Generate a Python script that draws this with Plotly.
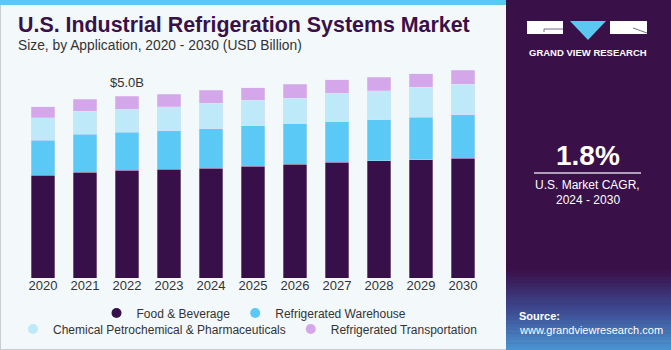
import plotly.graph_objects as go

years = ["2020", "2021", "2022", "2023", "2024", "2025", "2026", "2027", "2028", "2029", "2030"]
food = [2.83, 2.91, 2.96, 3.00, 3.02, 3.07, 3.13, 3.18, 3.23, 3.26, 3.30]
warehouse = [0.96, 1.04, 1.05, 1.05, 1.09, 1.12, 1.11, 1.12, 1.13, 1.17, 1.20]
chemical = [0.62, 0.64, 0.64, 0.66, 0.70, 0.70, 0.71, 0.78, 0.79, 0.82, 0.83]
transport = [0.31, 0.33, 0.35, 0.35, 0.36, 0.35, 0.38, 0.37, 0.37, 0.37, 0.39]
label_year = "2022"
label_text = "$5.0B"

series_names = ["Food & Beverage", "Refrigerated Warehouse",
                "Chemical Petrochemical & Pharmaceuticals", "Refrigerated Transportation"]
series_vals = [food, warehouse, chemical, transport]
colors = ["#37104A", "#5BC9F5", "#BEE9F9", "#D4A7EB"]
legend_ids = ["legend", "legend", "legend2", "legend2"]

W, H = 671, 350
L, R, T, B = 22, 187, 60, 72
PW, PH = W - L - R, H - T - B


def px(x):
    return (x - L) / PW


def py(y):
    return (H - B - y) / PH


fig = go.Figure()
for name, vals, col in zip(series_names, series_vals, colors):
    fig.add_trace(go.Bar(x=years, y=vals, name=name, marker_color=col,
                         marker_line_width=0.6, marker_line_color="rgba(235,225,245,0.55)",
                         showlegend=False))
for name, col, lg in zip(series_names, colors, legend_ids):
    fig.add_trace(go.Scatter(x=[years[0]], y=[None], mode="markers", name=name,
                             marker=dict(color=col, size=10, symbol="circle"),
                             legend=lg, showlegend=True, hoverinfo="skip"))

shapes = []
# outer border
shapes.append(dict(type="rect", xref="paper", yref="paper", x0=px(0.5), x1=px(670.5), y0=py(349.5), y1=py(0.5),
                   line=dict(color="#C9CDD2", width=1), fillcolor="rgba(0,0,0,0)", layer="below"))
# top stripe
shapes.append(dict(type="rect", xref="paper", yref="paper", x0=px(0), x1=px(506), y0=py(5), y1=py(0),
                   line_width=0, fillcolor="#5BC8F2"))
# right panel
shapes.append(dict(type="rect", xref="paper", yref="paper", x0=px(506), x1=px(671), y0=py(350), y1=py(0),
                   line_width=0, fillcolor="#3A1049"))
# gradient bands at bottom of panel
start = (58, 16, 73)
mid = (62, 74, 145)
end = (75, 150, 210)
n = 24
y_top, y_bot = 270, 350
for i in range(n):
    f = (i + 0.5) / n
    if f < 0.5:
        g = f / 0.5
        c = tuple(int(start[k] + (mid[k] - start[k]) * g) for k in range(3))
    else:
        g = (f - 0.5) / 0.5
        c = tuple(int(mid[k] + (end[k] - mid[k]) * g) for k in range(3))
    ya = y_top + (y_bot - y_top) * i / n
    yb = y_top + (y_bot - y_top) * (i + 1) / n
    shapes.append(dict(type="rect", xref="paper", yref="paper", x0=px(506), x1=px(671), y0=py(yb + 0.5), y1=py(ya),
                       line_width=0, fillcolor="rgb(%d,%d,%d)" % c))
# logo blocks
shapes.append(dict(type="rect", xref="paper", yref="paper", x0=px(527), x1=px(563), y0=py(34), y1=py(21),
                   line_width=0, fillcolor="white"))
shapes.append(dict(type="rect", xref="paper", yref="paper", x0=px(610), x1=px(647), y0=py(34), y1=py(21),
                   line_width=0, fillcolor="white"))
shapes.append(dict(type="path", xref="paper", yref="paper",
                   path="M %f %f L %f %f L %f %f Z" % (px(570), py(21), px(606), py(21), px(588), py(40)),
                   line_width=0, fillcolor="#5BC8F2"))
shapes.append(dict(type="line", xref="paper", yref="paper", x0=px(544), x1=px(563), y0=py(29), y1=py(29),
                   line=dict(color="#7A6A88", width=1)))
shapes.append(dict(type="line", xref="paper", yref="paper", x0=px(544), x1=px(544), y0=py(29), y1=py(32),
                   line=dict(color="#7A6A88", width=1)))
shapes.append(dict(type="line", xref="paper", yref="paper", x0=px(633), x1=px(647), y0=py(28), y1=py(33),
                   line=dict(color="#7A6A88", width=1)))
# CAGR divider
shapes.append(dict(type="line", xref="paper", yref="paper", x0=px(534), x1=px(641), y0=py(173), y1=py(173),
                   line=dict(color="#D8D0DE", width=1.5)))

li = years.index(label_year)
ann = []
ann.append(dict(text="<b>U.S. Industrial Refrigeration Systems Market</b>", xref="paper", yref="paper",
                x=px(16), y=py(25), xanchor="left", yanchor="middle", showarrow=False,
                font=dict(family="Liberation Sans, Arial", size=21.4, color="#3A1049")))
ann.append(dict(text="Size, by Application, 2020 - 2030 (USD Billion)", xref="paper", yref="paper",
                x=px(16), y=py(46), xanchor="left", yanchor="middle", showarrow=False,
                font=dict(family="Liberation Sans, Arial", size=13.8, color="#333333")))
ann.append(dict(text=label_text, x=li, y=sum(v[li] for v in series_vals), xref="x", yref="y",
                yshift=14, showarrow=False, yanchor="middle",
                font=dict(family="Liberation Sans, Arial", size=13, color="#333333")))
ann.append(dict(text="<b>GRAND VIEW RESEARCH</b>", xref="paper", yref="paper", x=px(587.5), y=py(52),
                xanchor="center", yanchor="middle", showarrow=False,
                font=dict(family="Liberation Sans, Arial", size=9.5, color="white")))
ann.append(dict(text="<b>1.8%</b>", xref="paper", yref="paper", x=px(587.5), y=py(155),
                xanchor="center", yanchor="middle", showarrow=False,
                font=dict(family="Liberation Sans, Arial", size=28, color="white")))
ann.append(dict(text="U.S. Market CAGR,", xref="paper", yref="paper", x=px(587.5), y=py(185),
                xanchor="center", yanchor="middle", showarrow=False,
                font=dict(family="Liberation Sans, Arial", size=12, color="white")))
ann.append(dict(text="2024 - 2030", xref="paper", yref="paper", x=px(587.5), y=py(200),
                xanchor="center", yanchor="middle", showarrow=False,
                font=dict(family="Liberation Sans, Arial", size=12, color="white")))
ann.append(dict(text="<b>Source:</b>", xref="paper", yref="paper", x=px(517), y=py(316),
                xanchor="left", yanchor="middle", showarrow=False,
                font=dict(family="Liberation Sans, Arial", size=11, color="white")))
ann.append(dict(text="www.grandviewresearch.com", xref="paper", yref="paper", x=px(517), y=py(330),
                xanchor="left", yanchor="middle", showarrow=False,
                font=dict(family="Liberation Sans, Arial", size=11, color="white")))

fig.update_layout(
    width=W, height=H,
    margin=dict(l=L, r=R, t=T, b=B, pad=0, autoexpand=False),
    paper_bgcolor="#F3F8FB", plot_bgcolor="rgba(0,0,0,0)",
    barmode="stack", bargap=0.43,
    font=dict(family="Liberation Sans, Arial", size=13, color="#333333"),
    xaxis=dict(type="category", categoryorder="array", categoryarray=years,
               range=[-0.5, len(years) - 0.5],
               showgrid=False, zeroline=False, showline=False,
               ticks="", ticklabelstandoff=-2,
               tickfont=dict(size=13, color="#333333")),
    yaxis=dict(range=[0, 6.0], visible=False, showgrid=False),
    shapes=shapes,
    annotations=ann,
    legend=dict(orientation="h", xref="paper", yref="paper", x=px(254), y=py(313),
                xanchor="center", yanchor="middle", traceorder="normal",
                bgcolor="rgba(0,0,0,0)", font=dict(size=12, color="#333333")),
    legend2=dict(orientation="h", xref="paper", yref="paper", x=px(13), y=py(329),
                 xanchor="left", yanchor="middle", traceorder="normal",
                 bgcolor="rgba(0,0,0,0)", font=dict(size=12, color="#333333")),
)

fig.write_html("out.html")
